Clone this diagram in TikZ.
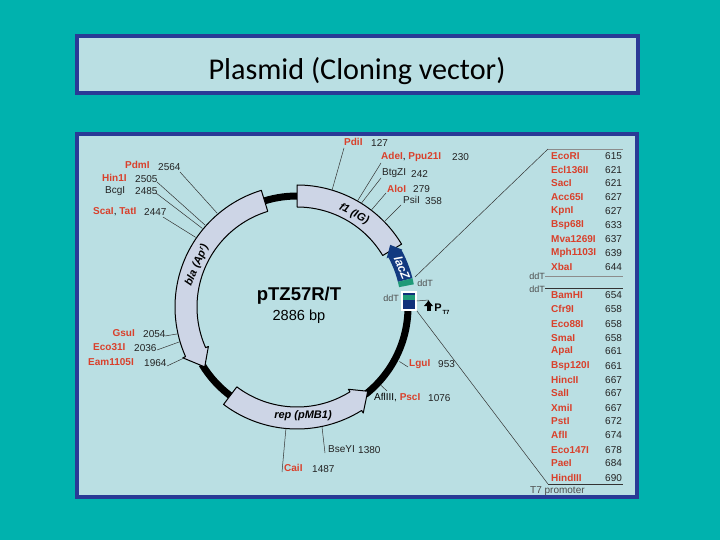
\documentclass[tikz,border=0pt]{standalone}
\usepackage{fontspec}
\usetikzlibrary{arrows.meta}
\setmainfont{Liberation Sans}
\newfontfamily\titlefont{Carlito}
\definecolor{slidebg}{HTML}{00B2AE}
\definecolor{panel}{HTML}{BADFE3}
\definecolor{frameblue}{HTML}{2A3A96}
\definecolor{bandfill}{HTML}{CDD5E6}
\definecolor{sitered}{HTML}{D9402B}
\definecolor{lacblue}{HTML}{123A80}
\definecolor{boxblue}{HTML}{10307A}
\definecolor{stripe}{HTML}{1E9A78}
\definecolor{numgrey}{HTML}{222222}
\tikzset{
  x=1pt,y=-1pt,
  panelbox/.style={draw=frameblue,line width=4pt,fill=panel},
  lbl/.style={inner sep=0pt,font=\fontsize{10}{10}\selectfont},
  red site/.style={lbl,text=sitered,font=\fontsize{10}{10}\selectfont\bfseries},
  black site/.style={lbl,text=numgrey},
  num/.style={lbl,text=numgrey},
  leader/.style={draw=black!80,line width=0.5pt},
  greyrule/.style={draw=black!45,line width=0.9pt},
  band/.style={draw=black,line width=1pt,fill=bandfill,line join=round},
  ring/.style={draw=black,line width=7pt},
  bandlabel/.style={inner sep=0pt,font=\fontsize{11}{12}\selectfont\bfseries\itshape},
  ddt/.style={inner sep=0pt,text=black!70,font=\fontsize{9}{9}\selectfont},
}
\begin{document}
\begin{tikzpicture}
\useasboundingbox (0,0) rectangle (720,540);
\fill[slidebg] (0,0) rectangle (720,540);
\draw[panelbox] (77,36) rectangle (638,93);
\draw[panelbox] (77,134) rectangle (637,497);
\node[inner sep=0pt,font=\titlefont\fontsize{30.2}{32}\selectfont] (title) at (357,71) {Plasmid (Cloning vector)};

% plasmid ring
\begin{scope}[shift={(297,307)},yscale=-1]
  \draw[ring] (107:111) arc (107:88:111);
  \draw[ring] (211:111) arc (211:235:111);
  \draw[ring] (308:111) arc (308:359:111);
  % f1
  \draw[band] (90:122) arc (90:31:122) -- (31:100) arc (31:90:100) -- cycle;
  % bla
  \draw[band] (107:122) arc (107:204:122) -- (204:125) -- (213:110) -- (204:97) -- (204:100) arc (204:107:100) -- cycle;
  % rep
  \draw[band] (233:122) arc (233:302:122) -- (302:125) -- (310:110) -- (302:97) -- (302:100) arc (302:233:100) -- cycle;
  % lacZ
  \fill[lacblue] (14:119) arc (14:28.5:119) -- (28.5:120) -- (33.7:112) -- (28.5:102) -- (28.5:104) arc (28.5:14:104) -- cycle;
  \fill[stripe] (11:119) arc (11:14:119) -- (14:104) arc (14:11:104) -- cycle;
  \coordinate (c564) at (130.4:123);
  \coordinate (c505) at (138.3:123);
  \coordinate (c485) at (140.3:123);
  \coordinate (c447) at (145.5:123);
  \coordinate (c054) at (192.7:122);
  \coordinate (c036) at (196.5:122);
  \coordinate (c964) at (204.3:124);
  \coordinate (c487) at (264.8:122);
  \coordinate (c380) at (281.8:122);
  \coordinate (c127) at (73.3:122);
  \coordinate (c230) at (60.3:122);
  \coordinate (c242) at (58.2:122);
  \coordinate (c279) at (52.5:122);
  \coordinate (c358) at (44.3:122);
  \coordinate (c953) at (332:116);
  \coordinate (c1076) at (317:115);
\end{scope}

% promoter box
\node[draw=white,line width=1.5pt,fill=boxblue,minimum width=14pt,minimum height=18pt,inner sep=0pt] (pbox) at (409,301) {};
\fill[stripe] (403,295) rectangle (415,300);
\node[inner sep=0pt,rotate=-68] (lacznode) at (402,268) {\textcolor{white}{\fontsize{12}{12}\selectfont\bfseries\itshape lacZ}};

% band labels
\node[bandlabel,rotate=-27] (f1lab) at (354,214) {f1 (IG)};
\node[bandlabel,rotate=67] (blalab) at (197,265) {bla (Ap\raisebox{3pt}{\fontsize{7}{7}\selectfont r})};
\node[bandlabel] (replab) at (303,416) {rep (pMB1)};
\node[inner sep=0pt,font=\fontsize{18.5}{19}\selectfont\bfseries] (pname) at (299,296) {pTZ57R/T};
\node[inner sep=0pt,font=\fontsize{14.6}{15}\selectfont] (psize) at (299,317) {2886 bp};

% left top labels
\node[red site,anchor=west] (pdm) at (125,165) {PdmI};
\node[num,anchor=west] (n2564) at (158,167) {2564};
\node[red site,anchor=west] (hin) at (102,178) {Hin1I};
\node[num,anchor=west] (n2505) at (135,179) {2505};
\node[black site,anchor=west] (bcg) at (105,191) {BcgI};
\node[num,anchor=west] (n2485) at (135,191) {2485};
\node[lbl,anchor=west] (sca) at (93,212) {\textcolor{sitered}{\bfseries ScaI}, \textcolor{sitered}{\bfseries TatI}};
\node[num,anchor=west] (n2447) at (144,212) {2447};
% left bottom labels
\node[red site,anchor=east] (gsu) at (135,333) {GsuI};
\node[num,anchor=west] (n2054) at (143,334) {2054};
\node[red site,anchor=west] (eco31) at (93,347) {Eco31I};
\node[num,anchor=west] (n2036) at (134,348) {2036};
\node[red site,anchor=west] (eam) at (88,362) {Eam1105I};
\node[num,anchor=west] (n1964) at (144,363) {1964};
% top labels
\node[red site,anchor=west] (pdi) at (344,142) {PdiI};
\node[num,anchor=west] (n127) at (371,143) {127};
\node[lbl,anchor=west] (ade) at (381,157) {\textcolor{sitered}{\bfseries AdeI}, \textcolor{sitered}{\bfseries Ppu21I}};
\node[num,anchor=west] (n230) at (452,157) {230};
\node[black site,anchor=west] (btg) at (382,173) {BtgZI};
\node[num,anchor=west] (n242) at (411,174) {242};
\node[red site,anchor=west] (alo) at (387,189) {AloI};
\node[num,anchor=west] (n279) at (413,189) {279};
\node[black site,anchor=west] (psi) at (403,200) {PsiI};
\node[num,anchor=west] (n358) at (425,201) {358};
% bottom labels
\node[red site,anchor=west] (lgu) at (409,364) {LguI};
\node[num,anchor=west] (n953) at (438,364) {953};
\node[lbl,anchor=west] (afl) at (374,398) {AflIII, \textcolor{sitered}{\bfseries PscI}};
\node[num,anchor=west] (n1076) at (428,398) {1076};
\node[black site,anchor=west] (bse) at (328,449) {BseYI};
\node[num,anchor=west] (n1380) at (358,450) {1380};
\node[red site,anchor=west] (cai) at (284,468) {CaiI};
\node[num,anchor=west] (n1487) at (312,469) {1487};

% leaders
\coordinate (s564) at (180,172);
\coordinate (s505) at (157,182);
\coordinate (s485) at (156,193);
\coordinate (s447) at (163,217);
\coordinate (s054) at (165,336);
\coordinate (s036) at (157,350);
\coordinate (s964) at (167,366);
\coordinate (s487) at (282,472);
\coordinate (s380) at (325,453);
\coordinate (s127) at (344,148);
\coordinate (s230) at (381,163);
\coordinate (s242) at (381,178);
\coordinate (s279) at (386,193);
\coordinate (s358) at (401,205);
\coordinate (s953) at (408,367);
\coordinate (s1076) at (387,391);
\draw[leader] (s564) -- (c564);
\draw[leader] (s505) -- (c505);
\draw[leader] (s485) -- (c485);
\draw[leader] (s447) -- (c447);
\draw[leader] (s054) -- (c054);
\draw[leader] (s036) -- (c036);
\draw[leader] (s964) -- (c964);
\draw[leader] (s487) -- (c487);
\draw[leader] (s380) -- (c380);
\draw[leader] (s127) -- (c127);
\draw[leader] (s230) -- (c230);
\draw[leader] (s242) -- (c242);
\draw[leader] (s279) -- (c279);
\draw[leader] (s358) -- (c358);
\draw[leader] (s953) -- (c953);
\draw[leader] (s1076) -- (c1076);

% site table
\foreach \i/\yy/\nm/\val in {1/156/EcoRI/615,2/170/Ecl136II/621,3/183/SacI/621,4/197/Acc65I/627,5/211/KpnI/627,6/225/Bsp68I/633,7/239/Mva1269I/637,8/253/Mph1103I/639,9/267/XbaI/644,10/295/BamHI/654,11/309/Cfr9I/658,12/324/Eco88I/658,13/338/SmaI/658,14/351/ApaI/661,15/366/Bsp120I/661,16/380/HincII/667,17/393/SalI/667,18/408/XmiI/667,19/421/PstI/672,20/435/AflI/674,21/450/Eco147I/678,22/463/PaeI/684,23/478/HindIII/690}{
  \node[red site,anchor=west] (site\i) at (551,\yy) {\nm};
  \node[num,anchor=west] (val\i) at (605,\yy) {\val};
}
\coordinate (topcorner) at (548,149);
\coordinate (topend) at (623,149);
\coordinate (botcorner) at (548,484);
\coordinate (botend) at (623,484);
\coordinate (greenpt) at (415,277);
\coordinate (ddtone) at (545,276);
\coordinate (ddtoneend) at (623,276);
\coordinate (ddttwo) at (545,288);
\coordinate (ddttwoend) at (623,288);
\draw[leader] (greenpt) -- (topcorner);
\draw[greyrule] (topcorner) -- (topend);
\draw[greyrule] (ddtone) -- (ddtoneend);
\draw[leader] (ddttwo) -- (ddttwoend);
\draw[leader] (pbox.south east) -- (botcorner);
\draw[leader] (botcorner) -- (botend);
\node[ddt,anchor=east] (ddta) at (545,276) {ddT};
\node[ddt,anchor=east] (ddtb) at (545,289) {ddT};
\node[ddt] (ddtc) at (425,283) {ddT};
\node[ddt] (ddtd) at (391,298) {ddT};
\node[lbl,anchor=west,text=black!70] (t7) at (530,491) {T7 promoter};

% P T7
\coordinate (parrowbase) at (428.5,311);
\coordinate (parrowtip) at (428.5,300);
\draw[leader] (pbox.east) -- (parrowtip);
\draw[-{Latex[length=6pt,width=10pt]},line width=4pt,draw=black] (parrowbase) -- (parrowtip);
\node[inner sep=0pt,font=\fontsize{11}{11}\selectfont\bfseries] (pt) at (438,308) {P};
\node[inner sep=0pt,font=\fontsize{6}{6}\selectfont\bfseries] (pts) at (446,312) {T7};
\end{tikzpicture}
\end{document}
